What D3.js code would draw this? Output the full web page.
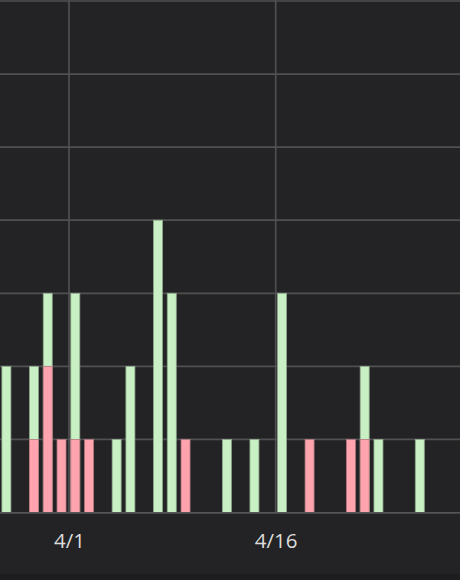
<!DOCTYPE html>
<html><head><meta charset="utf-8">
<script src="https://cdn.jsdelivr.net/npm/d3@7"></script>
<style>
html,body{margin:0;padding:0;background:#1d1d1f;}
svg{display:block;}
</style></head>
<body>
<svg id="chart" width="460" height="580"></svg>
<script>
// Data
const dates = ["3/27","3/29","3/30","3/31","4/1","4/2","4/4","4/5","4/7","4/8","4/9","4/12","4/14","4/16","4/18","4/21","4/22","4/23","4/26"];
const greenValues = [2,2,3,0,3,0,1,2,4,3,0,1,1,3,0,0,2,1,1];
const pinkValues  = [0,1,2,1,1,1,0,0,0,0,1,0,0,0,1,1,1,0,0];
const tickLabels = ["4/1","4/16"];
const yTicks = [1,2,3,4,5,6,7];

const parse = s => { const [m,d] = s.split("/").map(Number); return new Date(2020, m-1, d); };

const W = 460, H = 580;
const svg = d3.select("#chart");

svg.append("rect").attr("x",0).attr("y",0).attr("width",W).attr("height",574).attr("fill","#232325");

const x = d3.scaleTime()
  .domain([parse("4/1"), parse("4/16")])
  .range([69, 69 + 15*13.78]);
const y = d3.scaleLinear().domain([0,7]).range([512.5, 1]);

// horizontal grid
svg.append("g").selectAll("line").data(yTicks).join("line")
  .attr("x1",0).attr("x2",W)
  .attr("y1",d=>y(d)).attr("y2",d=>y(d))
  .attr("stroke","#505052").attr("stroke-width",1.7);

// vertical grid
const tickDates = tickLabels.map(parse);
svg.append("g").selectAll("line").data(tickDates).join("line")
  .attr("x1",d=>x(d)).attr("x2",d=>x(d))
  .attr("y1",0).attr("y2",512)
  .attr("stroke","#505052").attr("stroke-width",1.7);

const barW = 9;
const rows = dates.map((d,i)=>({date:parse(d), g:greenValues[i], p:pinkValues[i]}));

svg.append("g").selectAll("rect").data(rows.filter(r=>r.g>0)).join("rect")
  .attr("x",r=>x(r.date)+1.8).attr("width",barW)
  .attr("y",r=>y(r.g)).attr("height",r=>y(0)-y(r.g))
  .attr("fill","#c8f0c4").attr("stroke","#8fa88c").attr("stroke-width",0.8);

svg.append("g").selectAll("rect").data(rows.filter(r=>r.p>0)).join("rect")
  .attr("x",r=>x(r.date)+1.8).attr("width",barW)
  .attr("y",r=>y(r.p)).attr("height",r=>y(0)-y(r.p))
  .attr("fill","#ffa4ae").attr("stroke","#b07880").attr("stroke-width",0.8);

svg.append("line").attr("x1",0).attr("x2",W).attr("y1",512.8).attr("y2",512.8)
  .attr("stroke","#555557").attr("stroke-width",1.8);

const xAxis = d3.axisBottom(x).tickValues(tickDates).tickSize(0).tickFormat((d,i)=>tickLabels[i]);
const ax = svg.append("g").attr("transform","translate(0,513)").call(xAxis);
ax.select(".domain").remove();
ax.selectAll("text")
  .attr("dy",null).attr("y",34.5)
  .attr("fill","#dcdcdc")
  .style("font-family","'Open Sans', sans-serif")
  .style("font-size","20.5px");
</script>
</body></html>
